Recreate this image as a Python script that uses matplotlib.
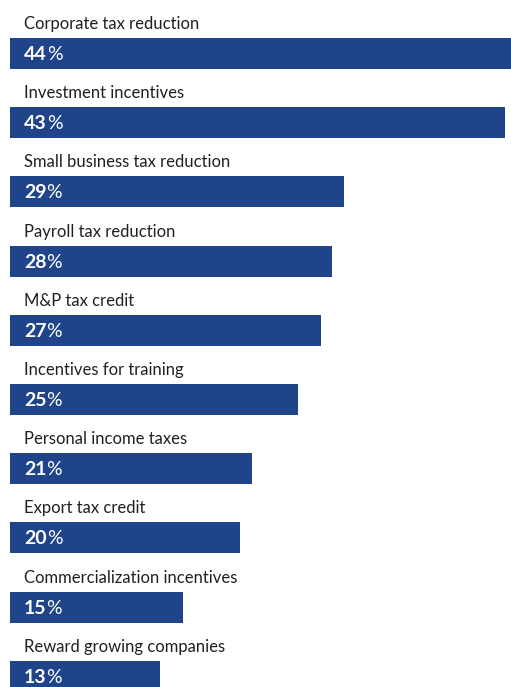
import matplotlib
matplotlib.use("Agg")
import matplotlib.pyplot as plt

# survey results: share of respondents per policy
categories = [
    "Corporate tax reduction",
    "Investment incentives",
    "Small business tax reduction",
    "Payroll tax reduction",
    "M&P tax credit",
    "Incentives for training",
    "Personal income taxes",
    "Export tax credit",
    "Commercialization incentives",
    "Reward growing companies",
]
values = [44, 43, 29, 28, 27, 25, 21, 20, 15, 13]

bar_color = "#1F4489"
text_color = "#231F20"
font = "Lato"

W, H, DPI = 511, 687, 100
fig = plt.figure(figsize=(W / DPI, H / DPI), dpi=DPI)
ax = fig.add_axes([0, 0, 1, 1])

# pixel-ish layout: 0% sits at x=10px, ~11.5px per percent; rows 69.2px apart
px_per_pct = 11.5
row_px = 69.2
first_center = 53.5
ax.set_xlim(-10 / px_per_pct, (W - 10) / px_per_pct)
ax.set_ylim((H - first_center) / row_px, -first_center / row_px)
ax.set_axis_off()

rows = list(range(len(categories)))
ax.barh(rows, values, height=31 / row_px, left=0, color=bar_color, linewidth=0)

text_x = 14 / px_per_pct
for i, (cat, val) in enumerate(zip(categories, values)):
    ax.text(text_x, i - 24.5 / row_px, cat, fontsize=12, family=font,
            color=text_color, va="baseline", ha="left")
    num = ax.text(text_x, i + 6.5 / row_px, f"{val}", fontsize=14,
                  family=font, fontweight="bold", color="white",
                  va="baseline", ha="left")
    ax.annotate("%", xy=(1, 0), xycoords=num, fontsize=14, family=font,
                fontweight="normal", color="white", va="bottom", ha="left")

fig.savefig("out.png", dpi=DPI)
